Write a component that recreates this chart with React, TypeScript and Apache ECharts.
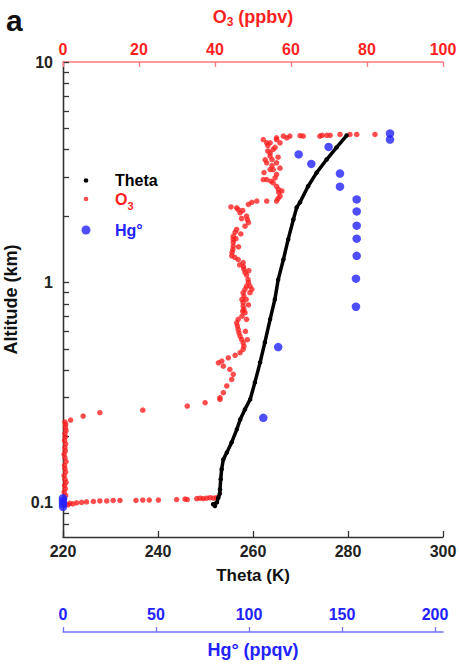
import { useEffect, useRef } from "react";
import * as echarts from "echarts";

// Potential temperature profile: [Theta (K), altitude (km)]
const thetaProfile: [number, number][] = [
  [252.0, 0.0967], [251.6, 0.0985], [252.4, 0.1005], [252.7, 0.1056], [253.0, 0.11],
  [253.05, 0.115], [253.2, 0.128], [253.4, 0.142], [253.75, 0.1575], [254.5, 0.1694],
  [255.5, 0.188], [256.6, 0.2155], [257.3, 0.239], [258.3, 0.2655], [259.4, 0.2946],
  [260.4, 0.352], [261.5, 0.434], [262.5, 0.5345], [263.6, 0.68], [264.6, 0.837],
  [265.3, 1.03], [266.4, 1.27], [267.4, 1.567], [268.5, 1.93], [269.2, 2.19],
  [269.9, 2.31], [271.6, 2.73], [273.4, 3.15], [275.5, 3.61], [277.6, 4.1], [279.7, 4.64],
];

// Ozone profile: [O3 (ppbv), altitude (km)]
const ozoneProfile: [number, number][] = [
  [0.5, 0.0985], [1.3, 0.098], [1.8, 0.0995], [2.6, 0.099], [3.6, 0.1], [4.9, 0.1005],
  [6.2, 0.101], [8.0, 0.1015], [9.7, 0.102], [11.5, 0.102], [13.2, 0.1025], [15.0, 0.1025],
  [19.2, 0.1025], [21.0, 0.103], [22.7, 0.103], [25.1, 0.103], [29.9, 0.1035], [32.1, 0.104],
  [32.7, 0.1035], [35.2, 0.1045], [36.1, 0.105], [36.9, 0.1045], [37.8, 0.105], [38.7, 0.1055],
  [39.6, 0.105], [40.4, 0.1055],
  [0.4, 0.104], [0.7, 0.108], [0.3, 0.112], [0.6, 0.116], [0.4, 0.12], [0.8, 0.124],
  [0.5, 0.128], [0.3, 0.133], [0.7, 0.138], [0.5, 0.143], [0.4, 0.148], [0.8, 0.154],
  [0.5, 0.16], [0.3, 0.166], [0.6, 0.172], [0.5, 0.178], [0.7, 0.185], [0.4, 0.192],
  [0.6, 0.199], [0.5, 0.206], [0.8, 0.213], [0.6, 0.22], [0.7, 0.227],
  [0.5, 0.2325], [2.0, 0.2374], [5.3, 0.2475], [9.7, 0.2565], [21.0, 0.2634], [32.7, 0.2748],
  [37.4, 0.2848], [41.3, 0.2946],
  [41.3, 0.3], [42.2, 0.316], [43.1, 0.339], [44.4, 0.363], [44.8, 0.383], [43.9, 0.403],
  [42.2, 0.417], [40.9, 0.432], [41.8, 0.44], [43.5, 0.455], [45.3, 0.467], [46.6, 0.48],
  [47.4, 0.497], [47.6, 0.514], [47.4, 0.533], [47.0, 0.551], [46.6, 0.571], [46.3, 0.591],
  [46.1, 0.612], [45.9, 0.634], [45.7, 0.656], [46.1, 0.68], [48.3, 0.68], [47.1, 0.703],
  [47.9, 0.729], [47.6, 0.754], [47.4, 0.781], [47.4, 0.811], [47.1, 0.837], [48.2, 0.837],
  [47.6, 0.867], [47.4, 0.898], [49.2, 0.898], [49.7, 0.93], [47.9, 0.93], [48.3, 0.962],
  [49.2, 0.962], [48.8, 1.0], [48.7, 1.03], [48.3, 1.08], [47.9, 1.11], [47.6, 1.15],
  [47.5, 1.18], [47.4, 1.23], [46.1, 1.27], [44.4, 1.32], [44.5, 1.37], [44.7, 1.41],
  [44.8, 1.46], [44.8, 1.52], [44.8, 1.57], [44.8, 1.62], [45.3, 1.69], [45.7, 1.74],
  [47.9, 1.8], [48.8, 1.87], [48.5, 1.93], [48.3, 2.0], [46.6, 2.07], [46.1, 2.14],
  [45.7, 2.18], [48.8, 2.26], [49.7, 2.31], [51.0, 2.34], [53.6, 2.34], [56.2, 2.34],
  [56.6, 2.4], [57.1, 2.46], [56.8, 2.56], [56.7, 2.64], [56.2, 2.73], [55.3, 2.83],
  [53.6, 2.93], [52.7, 2.93], [56.2, 3.09], [54.5, 3.25], [55.3, 3.25], [55.0, 3.39],
  [56.2, 3.49], [53.6, 3.49], [55.0, 3.61], [54.5, 3.74], [54.5, 3.87], [55.3, 4.01],
  [53.9, 4.18], [54.5, 4.3], [53.6, 4.3], [56.2, 4.45], [58.9, 4.53], [56.2, 4.53],
  [59.7, 4.61], [58.0, 4.61], [62.4, 4.63], [63.2, 4.61], [67.6, 4.61], [68.2, 4.65],
  [69.4, 4.65], [70.3, 4.65], [72.9, 4.69], [75.5, 4.69], [77.3, 4.69], [82.1, 4.69],
  [48.5, 0.55], [48.0, 0.6], [47.3, 0.74], [48.8, 0.79], [46.5, 1.2], [48.9, 1.13],
  [45.2, 1.3], [46.2, 1.45], [45.5, 1.58], [46.8, 1.66], [47.0, 1.95], [47.3, 2.12],
  [44.2, 2.2], [57.6, 2.6], [54.7, 2.88], [55.8, 2.98], [52.9, 3.15], [57.1, 3.3],
  [53.2, 3.6], [56.6, 3.7], [53.9, 3.95], [55.8, 4.1], [57.1, 4.3], [52.7, 4.45],
];

// Elemental mercury profile: [Hg° (ppqv), altitude (km)]
const mercuryProfile: [number, number][] = [
  [0, 0.096], [0, 0.099], [0, 0.102], [0, 0.105],
  [107.7, 0.243], [115.7, 0.509], [157.5, 0.776], [157.5, 1.04], [157.9, 1.32],
  [157.9, 1.58], [157.9, 1.81], [157.9, 2.1], [157.9, 2.38], [148.9, 2.72],
  [148.9, 3.12], [133.5, 3.45], [126.7, 3.81], [142.8, 4.12], [175.8, 4.45], [175.8, 4.74],
];

const altitudeLabels = [0.1, 1, 10];
const altitudeTicks = [0.08, 0.09, 0.1, 0.2, 0.3, 0.4, 0.5, 0.6, 0.7, 0.8, 0.9, 1, 2, 3, 4, 5, 6, 7, 8, 9, 10];
const mercuryTicks = [0, 50, 100, 150, 200];

const FONT = "'Liberation Sans', Arial, Helvetica, sans-serif";
const RED = "#ff1f1f";
const RED_LINE = "#ff7a7a";
const BLUE = "#2222ff";
const BLUE_LINE = "#7474ff";
const AXIS = "#333";

const smallDot = "path://M0,0M30,12M3.7,6a2.3,2.3 0 1,0 4.6,0a2.3,2.3 0 1,0 -4.6,0Z";
const bigDot = "path://M0,0M30,12M1.5,6a4.5,4.5 0 1,0 9,0a4.5,4.5 0 1,0 -9,0Z";

export default function App() {
  const ref = useRef<HTMLDivElement>(null);

  useEffect(() => {
    if (!ref.current) return;
    const chart = echarts.init(ref.current, undefined, { renderer: "svg" });

    const tickText = { fontFamily: FONT, fontWeight: "bold" as const, fontSize: 16 };
    const logRange = { type: "log" as const, logBase: 10, min: 0.07, max: 10 };

    chart.setOption({
      animation: false,
      backgroundColor: "#fff",
      textStyle: { fontFamily: FONT },
      grid: { left: 63, right: 16, top: 62, bottom: 130, outerBoundsMode: "none" },
      graphic: [
        {
          type: "text",
          left: 6,
          top: 5,
          style: { text: "a", font: `bold 30px ${FONT}`, fill: "#111" },
        },
      ],
      legend: [
        {
          left: 80, top: 170.5, padding: 0, orient: "vertical",
          itemWidth: 30, itemHeight: 12, selectedMode: false,
          textStyle: { ...tickText, color: "#000", lineHeight: 20 },
          data: [{ name: "Theta", icon: smallDot }],
        },
        {
          left: 80, top: 191, padding: 0, orient: "vertical",
          itemWidth: 30, itemHeight: 12, selectedMode: false,
          formatter: () => "{o|O}{s|3}",
          textStyle: {
            color: RED,
            rich: {
              o: { ...tickText, color: RED, lineHeight: 24, verticalAlign: "middle" },
              s: { fontFamily: FONT, fontWeight: "bold", fontSize: 11, color: RED, lineHeight: 12, verticalAlign: "bottom" },
            },
          },
          data: [{ name: "O3", icon: smallDot }],
        },
        {
          left: 80, top: 220, padding: 0, orient: "vertical",
          itemWidth: 30, itemHeight: 12, selectedMode: false,
          textStyle: { ...tickText, color: BLUE, lineHeight: 20 },
          data: [{ name: "Hg°", icon: bigDot }],
        },
      ],
      xAxis: [
        {
          type: "value",
          position: "bottom",
          min: 220, max: 300, interval: 20,
          name: "Theta (K)",
          nameLocation: "middle",
          nameGap: 30,
          nameTextStyle: { ...tickText, fontSize: 17, color: "#111" },
          axisLine: { show: true, lineStyle: { color: AXIS, width: 1.3 } },
          axisTick: { show: true, inside: true, length: 6, lineStyle: { color: AXIS, width: 1.3 } },
          axisLabel: { ...tickText, color: "#222", margin: 6 },
          splitLine: { show: false },
        },
        {
          type: "value",
          position: "top",
          min: 0, max: 100, interval: 20,
          name: "{o|O}{s|3}{o| (ppbv)}",
          nameLocation: "middle",
          nameGap: 34,
          nameTextStyle: {
            color: RED,
            rich: {
              o: { ...tickText, fontSize: 18, color: RED, lineHeight: 22, verticalAlign: "middle" },
              s: { fontFamily: FONT, fontWeight: "bold", fontSize: 12, color: RED, lineHeight: 13, verticalAlign: "bottom" },
            },
          },
          axisLine: { show: true, lineStyle: { color: RED_LINE, width: 1.5 } },
          axisTick: { show: true, inside: true, length: 5, lineStyle: { color: RED_LINE, width: 1.3 } },
          axisLabel: { ...tickText, color: RED, margin: 5 },
          splitLine: { show: false },
        },
        {
          type: "value",
          position: "bottom",
          offset: 95,
          min: 0, max: 204.3,
          name: "Hg° (ppqv)",
          nameLocation: "middle",
          nameGap: 9,
          nameTextStyle: { ...tickText, fontSize: 18, color: BLUE },
          axisLine: { show: true, lineStyle: { color: BLUE_LINE, width: 1.5 } },
          axisTick: { show: true, inside: true, length: 5, customValues: mercuryTicks, lineStyle: { color: BLUE_LINE, width: 1.3 } },
          axisLabel: { ...tickText, color: BLUE, inside: true, margin: 10, customValues: mercuryTicks },
          splitLine: { show: false },
        },
      ],
      yAxis: [
        {
          ...logRange,
          position: "left",
          name: "Altitude (km)",
          nameLocation: "middle",
          nameGap: 32,
          nameTextStyle: { ...tickText, fontSize: 18, color: "#111" },
          axisLine: { show: true, lineStyle: { color: AXIS, width: 1.3 } },
          axisTick: { show: true, inside: true, length: 6, customValues: altitudeTicks, lineStyle: { color: AXIS, width: 1.3 } },
          axisLabel: { ...tickText, color: "#222", margin: 10, customValues: altitudeLabels },
          splitLine: { show: false },
        },
        {
          ...logRange,
          position: "right",
          axisLine: { show: true, lineStyle: { color: AXIS, width: 1.3 } },
          axisTick: { show: false },
          axisLabel: { show: false },
          splitLine: { show: false },
        },
      ],
      series: [
        {
          name: "O3",
          type: "scatter",
          xAxisIndex: 1,
          yAxisIndex: 0,
          data: ozoneProfile,
          symbol: "circle",
          symbolSize: 5.5,
          clip: false,
          itemStyle: { color: RED },
        },
        {
          name: "Theta",
          type: "line",
          xAxisIndex: 0,
          yAxisIndex: 0,
          data: thetaProfile,
          symbol: "circle",
          symbolSize: 4.5,
          showSymbol: true,
          clip: false,
          itemStyle: { color: "#000" },
          lineStyle: { color: "#000", width: 3.5 },
        },
        {
          name: "Hg°",
          type: "scatter",
          xAxisIndex: 2,
          yAxisIndex: 0,
          data: mercuryProfile,
          symbol: "circle",
          symbolSize: 8.5,
          clip: false,
          itemStyle: { color: BLUE },
        },
      ],
    });

    return () => chart.dispose();
  }, []);

  return <div ref={ref} style={{ width: 459, height: 667, position: "absolute", left: 0, top: 0 }} />;
}
